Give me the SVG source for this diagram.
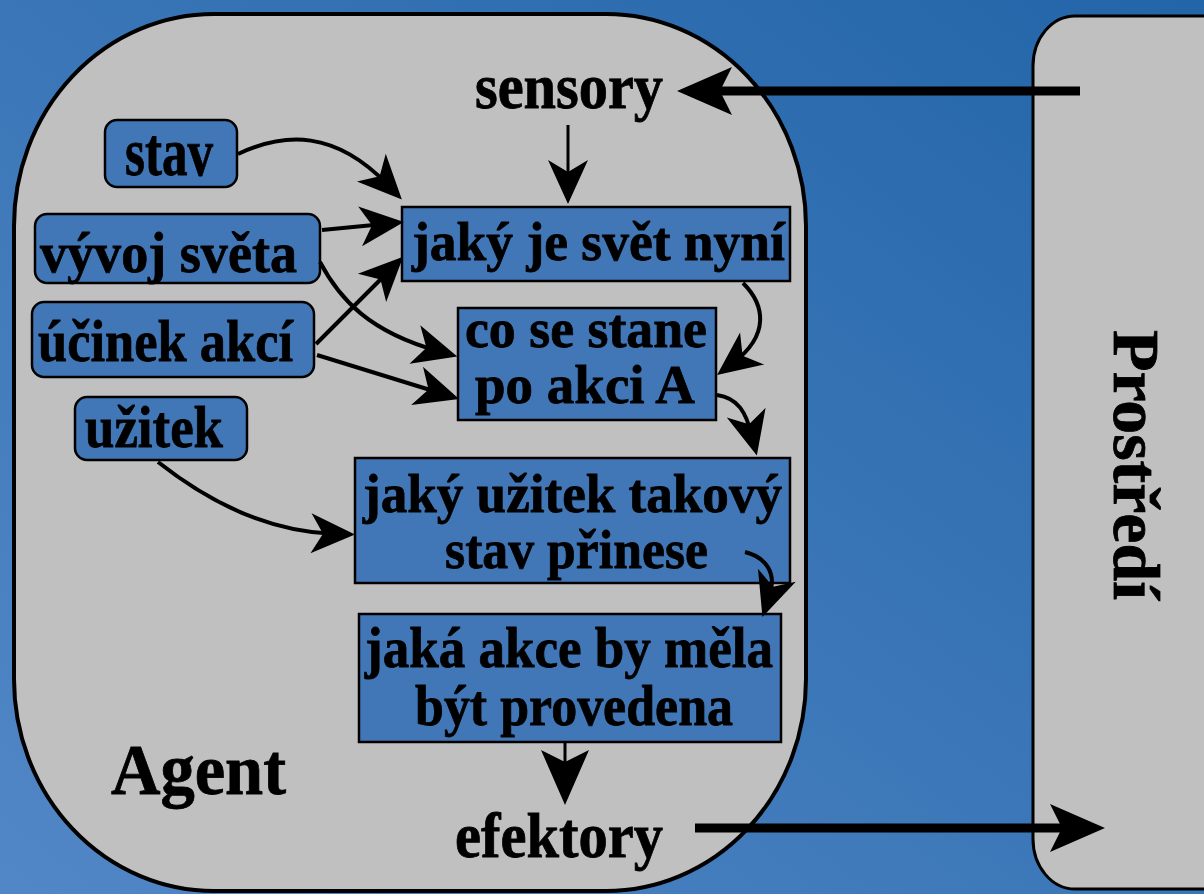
<svg xmlns="http://www.w3.org/2000/svg" width="1204" height="894" viewBox="0 0 1204 894">
<defs>
<linearGradient id="bg" x1="1" y1="0" x2="0" y2="1">
<stop offset="0" stop-color="#2265a8"/>
<stop offset="1" stop-color="#5287c7"/>
</linearGradient>
<marker id="a" markerUnits="userSpaceOnUse" viewBox="-50 -25 55 50" markerWidth="55" markerHeight="50" refX="-20" refY="0" orient="auto" overflow="visible">
<path d="M0,0 L-44,-20 L-32,0 L-44,20 Z" fill="#000"/>
</marker>
<marker id="b" markerUnits="userSpaceOnUse" viewBox="-60 -30 65 60" markerWidth="65" markerHeight="60" refX="-30" refY="0" orient="auto" overflow="visible">
<path d="M0,0 L-55,-24 L-43,0 L-55,24 Z" fill="#000"/>
</marker>
<style>
.t{font-family:"Liberation Serif","Times New Roman",serif;font-weight:bold;fill:#000;stroke:#000;stroke-width:0.8}
.rn{fill:#4277b7;stroke:#000;stroke-width:2.5}
.c{fill:none;stroke:#000;stroke-width:4}
.c3{fill:none;stroke:#000;stroke-width:3}
.thick{fill:none;stroke:#000;stroke-width:9}
</style>
</defs>
<rect x="0" y="0" width="1204" height="894" fill="url(#bg)"/>

<g id="agent">
<rect x="14" y="14" width="792" height="877" rx="200" ry="212" fill="#c0c0c0" stroke="#000" stroke-width="4"/>
<text class="t" x="111" y="794" font-size="71" textLength="175" lengthAdjust="spacingAndGlyphs">Agent</text>
</g>

<g id="prostredi">
<rect x="1033" y="16" width="220" height="873" rx="42" ry="50" fill="#c0c0c0" stroke="#000" stroke-width="3"/>
<text class="t" transform="translate(1114,330) rotate(90)" x="0" y="0" font-size="66" textLength="270" lengthAdjust="spacingAndGlyphs">Prostředí</text>
</g>

<g id="sensory">
<text class="t" x="475" y="108" font-size="64" textLength="188" lengthAdjust="spacingAndGlyphs">sensory</text>
</g>

<g id="efektory">
<text class="t" x="455" y="857" font-size="64" textLength="208" lengthAdjust="spacingAndGlyphs">efektory</text>
</g>

<g id="stav">
<rect class="rn" x="105" y="120" width="132" height="67" rx="12"/>
<text class="t" x="125" y="175" font-size="68" textLength="88" lengthAdjust="spacingAndGlyphs">stav</text>
</g>

<g id="vyvoj">
<rect class="rn" x="35" y="214" width="285" height="69" rx="12"/>
<text class="t" x="40" y="272" font-size="58" textLength="257" lengthAdjust="spacingAndGlyphs">vývoj světa</text>
</g>

<g id="ucinek">
<rect class="rn" x="32" y="302" width="282" height="75" rx="12"/>
<text class="t" x="38" y="361" font-size="60" textLength="255" lengthAdjust="spacingAndGlyphs">účinek akcí</text>
</g>

<g id="uzitek">
<rect class="rn" x="75" y="397" width="172" height="63" rx="12"/>
<text class="t" x="85" y="447" font-size="59" textLength="138" lengthAdjust="spacingAndGlyphs">užitek</text>
</g>

<g id="svet">
<rect class="rn" x="402" y="207" width="388" height="74"/>
<text class="t" x="412" y="260" font-size="55" textLength="373" lengthAdjust="spacingAndGlyphs">jaký je svět nyní</text>
</g>

<g id="costane">
<rect class="rn" x="458" y="308" width="258" height="112"/>
<text class="t" font-size="55"><tspan x="465" y="347" textLength="242" lengthAdjust="spacingAndGlyphs">co se stane</tspan><tspan x="475" y="403" textLength="220" lengthAdjust="spacingAndGlyphs">po akci A</tspan></text>
</g>

<g id="uzitekstav">
<rect class="rn" x="355" y="458" width="435" height="125"/>
<text class="t" font-size="55"><tspan x="363" y="512" textLength="419" lengthAdjust="spacingAndGlyphs">jaký užitek takový</tspan><tspan x="445" y="568" textLength="263" lengthAdjust="spacingAndGlyphs">stav přinese</tspan></text>
</g>

<g id="akce">
<rect class="rn" x="359" y="614" width="422" height="128"/>
<text class="t" font-size="57"><tspan x="365" y="667" textLength="408" lengthAdjust="spacingAndGlyphs">jaká akce by měla</tspan><tspan x="415" y="725" textLength="318" lengthAdjust="spacingAndGlyphs">být provedena</tspan></text>
</g>

<g id="connectors">
<path class="thick" d="M1080,91 L707,91" marker-end="url(#b)"/>
<path class="thick" d="M695,828 L1075,828" marker-end="url(#b)"/>
<path class="c3" d="M568,125 L568,184" marker-end="url(#a)"/>
<path class="c" d="M238,154 C285,132 335,130 388,185" marker-end="url(#a)"/>
<path class="c" d="M322,230 L384,224" marker-end="url(#a)"/>
<path class="c" d="M316,344 L389,271" marker-end="url(#a)"/>
<path class="c" d="M320,262 C340,300 370,332 438,351" marker-end="url(#a)"/>
<path class="c" d="M317,355 L440,393" marker-end="url(#a)"/>
<path class="c" d="M743,283 C765,305 770,335 733,363" marker-end="url(#a)"/>
<path class="c" d="M717,395 C738,398 746,412 752,436" marker-end="url(#a)"/>
<path class="c" d="M158,462 C200,495 260,532 335,534" marker-end="url(#a)"/>
<path class="c" d="M745,552 C765,557 778,572 769,598" marker-end="url(#a)"/>
<path class="c3" d="M565,742 L565,775" marker-end="url(#b)"/>
</g>
</svg>
